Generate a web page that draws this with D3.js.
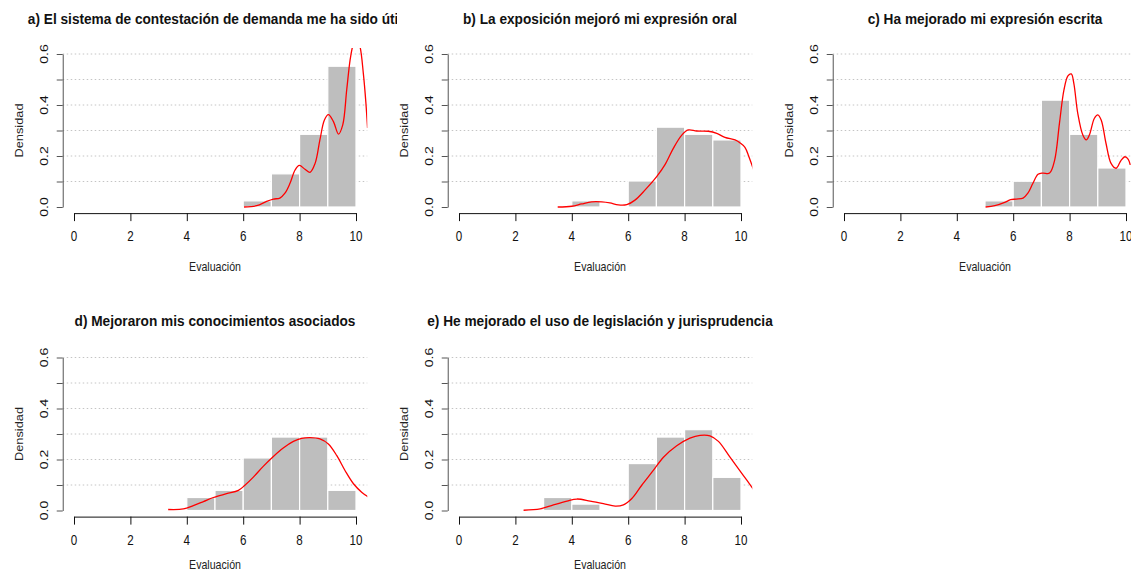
<!DOCTYPE html>
<html><head><meta charset="utf-8">
<script src="https://cdn.jsdelivr.net/npm/d3@7"></script>
<style>body{margin:0;background:#fff} svg{display:block}</style>
</head><body><svg id="c" width="1131" height="575"></svg>
<script>
const titles = [
  "a) El sistema de contestación de demanda me ha sido útil",
  "b) La exposición mejoró mi expresión oral",
  "c) Ha mejorado mi expresión escrita",
  "d) Mejoraron mis conocimientos asociados",
  "e) He mejorado el uso de legislación y jurisprudencia"
];
const xLabel = "Evaluación";
const yLabel = "Densidad";
const binStarts = [0,1,2,3,4,5,6,7,8,9];
const densA = [0,0,0,0,0,0,0.024,0.13,0.285,0.552];
const densB = [0,0,0,0,0.024,0,0.102,0.313,0.285,0.263];
const densC = [0,0,0,0,0,0.024,0.101,0.419,0.285,0.153];
const densD = [0,0,0,0,0.051,0.079,0.206,0.288,0.288,0.079];
const densE = [0,0,0,0.051,0.025,0,0.184,0.288,0.317,0.13];
const xTicks = [0,2,4,6,8,10];
const yTicks = [0,0.1,0.2,0.3,0.4,0.5,0.6];
const yTickLabels = [0,0.2,0.4,0.6];
const gridVals = [0.1,0.2,0.3,0.4,0.5,0.6];

const curveAx = [6.03,6.48,6.83,7.07,7.30,7.48,7.66,7.84,7.99,8.19,8.37,8.55,8.72,8.88,9.02,9.20,9.38,9.53,9.67,9.79,9.88,10.0,10.14,10.26,10.35,10.41];
const curveAy = [0,0.005,0.022,0.031,0.035,0.054,0.093,0.145,0.163,0.148,0.136,0.171,0.263,0.341,0.362,0.335,0.286,0.322,0.459,0.576,0.63,0.67,0.63,0.524,0.41,0.31];
const curveBx = [3.50,4.0,4.35,4.70,5.06,5.35,5.65,5.95,6.24,6.60,7.01,7.30,7.60,7.90,8.13,8.43,8.84,9.14,9.43,9.79,9.96,10.14,10.28,10.44];
const curveBy = [0,0.003,0.012,0.020,0.020,0.016,0.008,0.009,0.027,0.067,0.119,0.165,0.23,0.282,0.302,0.298,0.297,0.289,0.273,0.263,0.252,0.234,0.197,0.148];
const curveCx = [5.02,5.35,5.70,5.91,6.11,6.35,6.52,6.70,6.88,7.05,7.29,7.47,7.64,7.80,7.94,8.06,8.15,8.29,8.47,8.59,8.70,8.88,9.0,9.12,9.29,9.47,9.65,9.82,9.96,10.08,10.15];
const curveCy = [0,0.005,0.018,0.029,0.031,0.035,0.054,0.093,0.128,0.133,0.133,0.184,0.328,0.459,0.514,0.522,0.485,0.367,0.282,0.263,0.282,0.348,0.361,0.341,0.25,0.171,0.152,0.182,0.197,0.187,0.165];
const curveDx = [3.34,3.88,4.23,4.59,4.94,5.41,5.83,6.06,6.36,6.71,7.07,7.42,7.78,8.07,8.37,8.72,9.02,9.32,9.61,9.91,10.20,10.44];
const curveDy = [0.004,0.006,0.019,0.035,0.051,0.066,0.079,0.099,0.131,0.173,0.212,0.245,0.271,0.283,0.286,0.281,0.261,0.215,0.157,0.105,0.072,0.053];
const curveEx = [2.29,2.88,3.35,3.83,4.18,4.65,5.12,5.54,5.83,6.13,6.48,6.89,7.25,7.72,8.19,8.55,8.90,9.20,9.61,10.08,10.44];
const curveEy = [0.001,0.006,0.022,0.037,0.045,0.037,0.027,0.017,0.022,0.047,0.099,0.157,0.209,0.254,0.284,0.295,0.293,0.271,0.209,0.138,0.083];

const panels = [
  {t:titles[0], d:densA, cx:curveAx, cy:curveAy, col:0, row:0},
  {t:titles[1], d:densB, cx:curveBx, cy:curveBy, col:1, row:0},
  {t:titles[2], d:densC, cx:curveCx, cy:curveCy, col:2, row:0},
  {t:titles[3], d:densD, cx:curveDx, cy:curveDy, col:0, row:1},
  {t:titles[4], d:densE, cx:curveEx, cy:curveEy, col:1, row:1}
];

const svg = d3.select("#c");
const FONT = "'Liberation Sans', Arial, sans-serif";
const SX = 0.83;
const SXT = 0.93;
const colOff = [0, 385, 770];
const rowOff = [0, 303.5];
const defs = svg.append("defs");

panels.forEach((p, i) => {
  const ox = colOff[p.col], oy = rowOff[p.row];
  const x = d3.scaleLinear().domain([0, 10]).range([74 + ox, 356 + ox]);
  const y = d3.scaleLinear().domain([0, 0.6]).range([207 + oy, 54 + oy]);
  const xl = x(-0.4), xr = x(10.4), yt = y(0.624), yb = y(-0.024);
  const g = svg.append("g");

  defs.append("clipPath").attr("id", "clip" + i).append("rect")
    .attr("x", xl).attr("y", yt).attr("width", xr - xl).attr("height", yb - yt);
  defs.append("clipPath").attr("id", "tclip" + i).append("rect")
    .attr("x", ox - 20).attr("y", oy - 5).attr("width", 417).attr("height", 45);

  // gridlines
  g.append("g").selectAll("line").data(gridVals).join("line")
    .attr("x1", xl).attr("x2", xr)
    .attr("y1", v => y(v)).attr("y2", v => y(v))
    .attr("stroke", "#c4c4c4").attr("stroke-width", 1)
    .attr("stroke-dasharray", "1.5,2.5");

  // bars
  const bins = binStarts.map((b, k) => ({x0: b, x1: b + 1, v: p.d[k]})).filter(b => b.v > 0);
  g.append("g").selectAll("rect").data(bins).join("rect")
    .attr("x", b => x(b.x0)).attr("width", b => x(b.x1) - x(b.x0))
    .attr("y", b => y(b.v)).attr("height", b => y(0) - y(b.v))
    .attr("fill", "#bebebe").attr("stroke", "#fff").attr("stroke-width", 1.2);

  // density curve
  const pts = p.cx.map((v, k) => [v, p.cy[k]]);
  const line = d3.line().x(d => x(d[0])).y(d => y(d[1])).curve(d3.curveCatmullRom.alpha(0.5));
  g.append("g").attr("clip-path", `url(#clip${i})`)
    .append("path").datum(pts).attr("d", line)
    .attr("fill", "none").attr("stroke", "#ff0000").attr("stroke-width", 1.3);

  // y axis
  const ya = g.append("g").attr("transform", `translate(${xl},0)`)
    .call(d3.axisLeft(y).tickValues(yTicks).tickSize(6).tickSizeOuter(0).tickFormat(""));
  ya.selectAll("path,line").attr("stroke", "#555");
  g.append("g").selectAll("text").data(yTickLabels).join("text")
    .attr("transform", v => `translate(${xl - 19},${y(v)}) scale(${SX},1) rotate(-90)`)
    .attr("dy", "0.36em").attr("text-anchor", "middle")
    .attr("font-family", FONT).attr("font-size", 14).attr("fill", "#111")
    .text(v => v.toFixed(1));

  // x axis
  const xa = g.append("g").attr("transform", `translate(0,${yb})`)
    .call(d3.axisBottom(x).tickValues(xTicks).tickSize(8).tickSizeOuter(0).tickFormat(""));
  xa.selectAll("path,line").attr("stroke", "#111");
  g.append("g").selectAll("text").data(xTicks).join("text")
    .attr("transform", v => `translate(${x(v)},${yb + 28}) scale(${SX},1)`)
    .attr("text-anchor", "middle")
    .attr("font-family", FONT).attr("font-size", 14).attr("fill", "#111")
    .text(v => String(v));

  // axis titles
  const xlY = p.row === 0 ? 271 : 569;
  g.append("text")
    .attr("transform", `translate(${(xl + xr) / 2},${xlY}) scale(${SX},1)`)
    .attr("text-anchor", "middle").attr("font-family", FONT).attr("font-size", 12.8).attr("fill", "#222")
    .text(xLabel);
  g.append("text")
    .attr("transform", `translate(${ox + 19},${(yt + yb) / 2}) scale(${SX},1) rotate(-90)`)
    .attr("dy", "0.36em").attr("text-anchor", "middle").attr("font-family", FONT).attr("font-size", 12.8).attr("fill", "#222")
    .text(yLabel);

  // title
  const tY = p.row === 0 ? 24 : 326;
  g.append("g").attr("clip-path", `url(#tclip${i})`)
    .append("text")
    .attr("transform", `translate(${(xl + xr) / 2},${tY}) scale(${SXT},1)`)
    .attr("text-anchor", "middle").attr("font-family", FONT).attr("font-weight", "bold")
    .attr("font-size", 14.7).attr("fill", "#111")
    .text(p.t);
});
</script></body></html>
